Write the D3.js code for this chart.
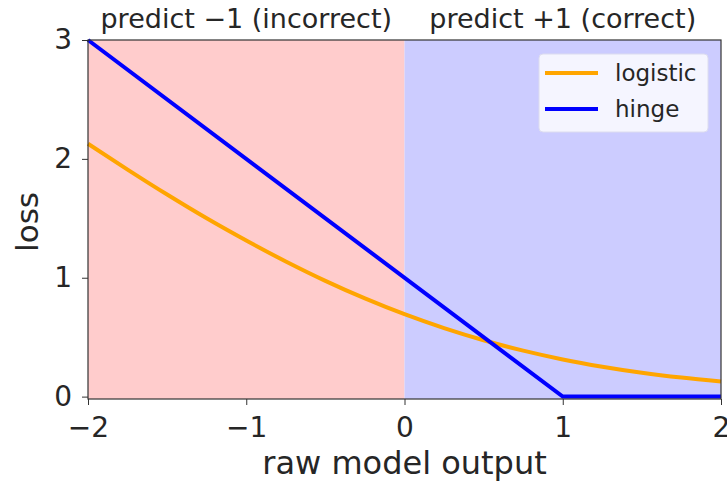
<!DOCTYPE html>
<html><head><meta charset="utf-8">
<script src="https://cdn.jsdelivr.net/npm/d3@7"></script>
<style>body{margin:0;background:#fff}svg{display:block}text{font-family:"DejaVu Sans",sans-serif;fill:#262626}</style>
</head><body>
<script>
const xTicks = [-2, -1, 0, 1, 2];
const yTicks = [0, 1, 2, 3];
const logisticX = [-2, -1.75, -1.5, -1.25, -1, -0.75, -0.5, -0.25, 0, 0.25, 0.5, 0.75, 1, 1.25, 1.5, 1.75, 2];
const logisticY = [2.127, 1.91, 1.70, 1.50, 1.313, 1.137, 0.974, 0.826, 0.693, 0.576, 0.474, 0.387, 0.313, 0.252, 0.201, 0.160, 0.127];
const hingeX = [-2, 1, 2];
const hingeY = [3, 0, 0];
const regions = [{from: -2, to: 0, label: "predict \u22121 (incorrect)", color: "#ffcccc"},
                 {from: 0, to: 2, label: "predict +1 (correct)", color: "#ccccff"}];
const seriesNames = ["logistic", "hinge"];
const seriesColors = ["#ffa500", "#0000ff"];

const W = 727, H = 483;
const m = {l: 88, r: 6, t: 40, b: 84};
const svg = d3.select("body").append("svg").attr("width", W).attr("height", H);
const x = d3.scaleLinear().domain([-2, 2]).range([m.l, W - m.r]);
const y = d3.scaleLinear().domain([-0.02, 3]).range([H - m.b, m.t]);

regions.forEach(r => {
  svg.append("rect").attr("x", x(r.from)).attr("y", m.t).attr("width", x(r.to) - x(r.from))
    .attr("height", y(-0.02) - m.t).attr("fill", r.color);
  svg.append("text").attr("x", (x(r.from) + x(r.to)) / 2).attr("y", 28)
    .attr("text-anchor", "middle").style("font-size", "27px").text(r.label);
});

svg.append("path").datum(logisticX.map((v, i) => [v, logisticY[i]]))
  .attr("d", d3.line().x(d => x(d[0])).y(d => y(d[1])).curve(d3.curveMonotoneX))
  .attr("fill", "none").attr("stroke", seriesColors[0]).attr("stroke-width", 4);
svg.append("path").datum(hingeX.map((v, i) => [v, hingeY[i]]))
  .attr("d", d3.line().x(d => x(d[0])).y(d => y(d[1]))).attr("fill", "none").attr("stroke", seriesColors[1]).attr("stroke-width", 4);

const fmt = d => d < 0 ? "\u2212" + Math.abs(d) : String(d);
const xa = svg.append("g").attr("transform", `translate(0,${H - m.b})`)
  .call(d3.axisBottom(x).tickValues(xTicks).tickFormat(fmt).tickSizeOuter(0).tickSize(6).tickPadding(12));
const ya = svg.append("g").attr("transform", `translate(${m.l},0)`)
  .call(d3.axisLeft(y).tickValues(yTicks).tickFormat(fmt).tickSizeOuter(0).tickSize(6).tickPadding(10));
[xa, ya].forEach(a => {
  a.selectAll("text").style("font-size", "28px").style("font-family", "DejaVu Sans").attr("fill", "#262626");
  a.selectAll("line").attr("stroke", "#333");
  a.select(".domain").remove();
});
svg.append("rect").attr("x", m.l).attr("y", m.t).attr("width", W - m.r - m.l).attr("height", y(-0.02) - m.t)
  .attr("fill", "none").attr("stroke", "#333").attr("stroke-width", 1.2);

svg.append("text").attr("x", (m.l + W - m.r) / 2).attr("y", 474).attr("text-anchor", "middle")
  .style("font-size", "32px").text("raw model output");
svg.append("text").attr("transform", `translate(38,222) rotate(-90)`).attr("text-anchor", "middle")
  .style("font-size", "31px").text("loss");

const lg = svg.append("g");
lg.append("rect").attr("x", 539).attr("y", 54).attr("width", 169).attr("height", 78).attr("rx", 4)
  .attr("fill", "#f5f5ff").attr("stroke", "#dcdcef");
seriesNames.forEach((n, i) => {
  const yy = 73 + i * 36;
  lg.append("line").attr("x1", 545).attr("x2", 598).attr("y1", yy).attr("y2", yy)
    .attr("stroke", seriesColors[i]).attr("stroke-width", 4);
  lg.append("text").attr("x", 615).attr("y", yy).attr("dy", "0.35em").style("font-size", "23px").text(n);
});
</script>
</body></html>
